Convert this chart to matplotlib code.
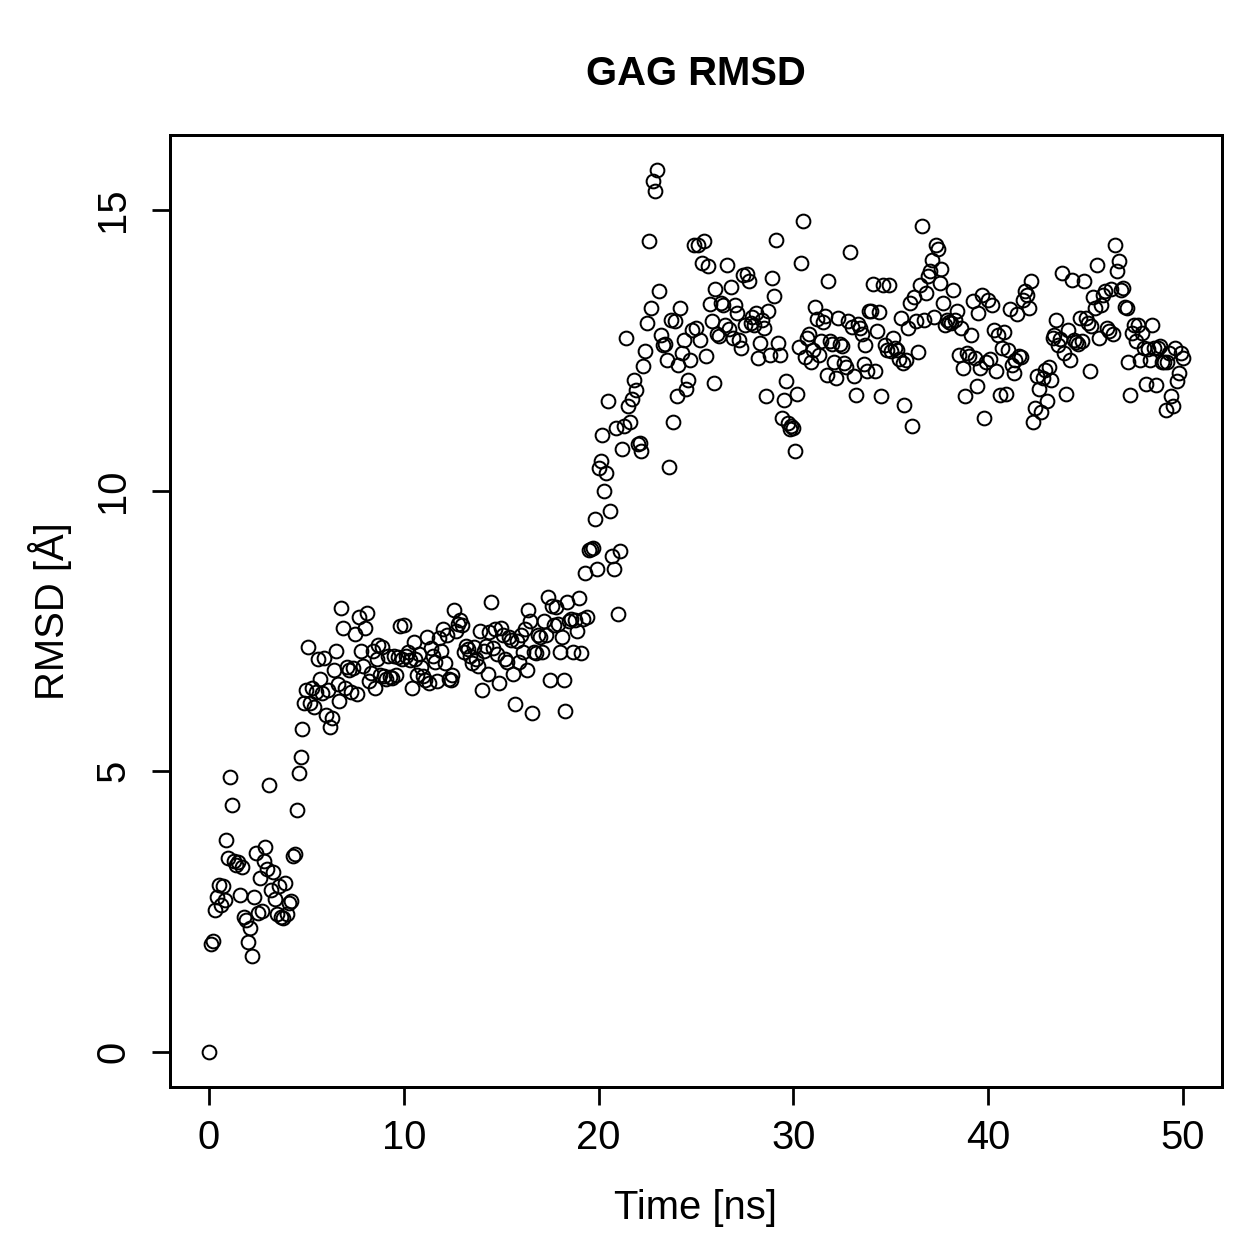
import matplotlib
matplotlib.use("Agg")
import matplotlib.pyplot as plt
import numpy as np

plt.rcParams['font.family'] = ['Liberation Sans', 'DejaVu Sans']

# RMSD per frame, one frame every 0.1 ns
RMSD = [
	0.00, 1.92, 1.98, 2.52, 2.75, 2.97, 2.62, 2.95, 2.70, 3.78,
	3.45, 4.90, 4.40, 3.40, 3.32, 3.38, 2.80, 3.30, 2.40, 2.35,
	1.95, 2.20, 1.70, 2.75, 3.55, 2.48, 3.10, 2.50, 3.40, 3.65,
	3.25, 4.75, 2.88, 3.20, 2.72, 2.45, 2.95, 2.40, 2.38, 3.00,
	2.45, 2.65, 2.68, 3.48, 3.52, 4.30, 4.97, 5.25, 5.75, 6.22,
	6.45, 7.22, 6.22, 6.48, 6.15, 6.42, 7.00, 6.65, 6.40, 7.02,
	6.00, 6.45, 5.78, 5.95, 6.80, 7.15, 6.55, 6.25, 7.90, 7.55,
	6.48, 6.85, 6.80, 6.42, 6.84, 7.45, 6.38, 7.74, 7.15, 6.88,
	7.55, 7.82, 6.60, 6.75, 7.15, 6.48, 7.00, 7.25, 6.72, 7.22,
	6.70, 6.65, 7.05, 6.68, 6.66, 7.05, 6.72, 7.04, 7.58, 7.00,
	7.60, 7.05, 7.12, 6.98, 6.48, 7.30, 7.00, 6.72, 7.08, 6.85,
	6.70, 6.62, 7.40, 6.58, 7.20, 7.05, 6.95, 6.60, 7.38, 7.15,
	7.54, 6.92, 7.42, 6.65, 6.62, 6.72, 7.87, 7.50, 7.62, 7.70,
	7.60, 7.12, 7.24, 7.18, 7.05, 6.92, 7.22, 7.00, 6.88, 7.49,
	6.44, 7.15, 7.24, 6.74, 7.48, 8.02, 7.20, 7.54, 7.08, 6.58,
	7.55, 7.42, 7.00, 6.95, 7.40, 7.33, 6.74, 6.20, 7.32, 6.95,
	7.42, 7.13, 7.54, 6.80, 7.88, 7.67, 6.03, 7.13, 7.10, 7.42,
	7.40, 7.13, 7.67, 7.42, 8.10, 6.62, 7.94, 7.60, 7.92, 7.62,
	7.13, 7.40, 6.62, 6.08, 8.02, 7.67, 7.72, 7.12, 7.70, 7.49,
	8.08, 7.10, 7.72, 8.53, 7.75, 8.94, 8.96, 8.97, 9.50, 8.60,
	10.40, 10.52, 10.99, 9.99, 10.31, 11.59, 9.63, 8.83, 8.61, 11.11,
	7.80, 8.92, 10.75, 11.16, 12.72, 11.50, 11.23, 11.64, 11.97, 11.79,
	10.84, 10.85, 10.70, 12.22, 12.48, 12.98, 14.45, 13.25, 15.52, 15.34,
	15.71, 13.55, 12.77, 12.60, 12.62, 12.32, 10.43, 13.04, 11.23, 13.02,
	11.68, 12.24, 13.25, 12.45, 12.68, 11.82, 11.97, 12.33, 12.86, 14.37,
	12.90, 14.37, 12.68, 14.05, 14.45, 12.40, 14.00, 13.32, 13.02, 11.91,
	13.59, 12.80, 12.75, 13.34, 13.30, 12.95, 14.02, 12.88, 13.63, 12.72,
	13.30, 13.16, 12.68, 12.54, 13.84, 12.95, 13.87, 13.73, 12.98, 13.10,
	12.95, 13.17, 12.36, 12.63, 13.05, 12.90, 11.68, 13.20, 12.42, 13.79,
	13.47, 14.46, 12.63, 12.41, 11.29, 11.61, 11.95, 11.20, 11.10, 11.15,
	11.12, 10.70, 11.72, 12.56, 14.05, 14.80, 12.38, 12.72, 12.79, 12.30,
	12.50, 13.28, 13.06, 12.41, 12.66, 13.00, 13.11, 12.06, 13.73, 12.66,
	12.62, 12.30, 12.00, 13.07, 12.61, 12.58, 12.27, 12.20, 13.02, 14.25,
	12.92, 12.05, 11.70, 12.97, 12.90, 12.80, 12.25, 12.60, 12.14, 13.20,
	13.20, 13.68, 12.13, 12.84, 13.18, 11.68, 13.66, 12.60, 12.50, 13.66,
	12.48, 12.72, 12.55, 12.50, 12.35, 13.07, 12.28, 11.52, 12.32, 12.90,
	13.34, 11.15, 13.46, 13.02, 12.47, 13.66, 14.71, 13.05, 13.52, 13.82,
	13.91, 14.11, 13.10, 14.37, 14.30, 13.70, 13.95, 13.34, 12.95, 13.05,
	13.00, 12.98, 13.57, 13.05, 13.21, 12.42, 12.90, 12.18, 11.68, 12.45,
	12.40, 12.77, 13.38, 12.36, 11.86, 13.16, 12.18, 13.48, 11.29, 12.30,
	13.40, 12.35, 13.30, 12.86, 12.13, 12.77, 11.70, 12.54, 12.82, 11.72,
	12.50, 13.23, 12.24, 12.09, 12.32, 13.14, 12.40, 12.38, 13.40, 13.55,
	13.48, 13.25, 13.73, 11.23, 11.47, 12.04, 11.82, 11.41, 12.00, 12.15,
	11.59, 12.20, 11.97, 12.72, 12.77, 13.04, 12.59, 12.70, 13.88, 12.45,
	11.73, 12.86, 12.32, 13.75, 12.68, 12.65, 12.62, 13.07, 12.66, 13.73,
	13.07, 12.98, 12.13, 12.93, 13.46, 13.25, 14.02, 12.72, 13.30, 13.48,
	13.55, 12.90, 12.85, 13.60, 12.80, 14.37, 13.91, 14.09, 13.58, 13.62,
	13.28, 13.25, 12.30, 11.70, 12.81, 12.95, 12.66, 12.95, 12.32, 12.81,
	12.55, 11.90, 12.53, 12.32, 12.95, 12.55, 11.88, 12.55, 12.58, 12.30,
	12.30, 11.43, 12.30, 12.45, 11.68, 11.50, 12.54, 11.95, 12.09, 12.45,
	12.36,
]
TIME = np.arange(len(RMSD)) * 0.1

XTICKS = [0, 10, 20, 30, 40, 50]
YTICKS = [0, 5, 10, 15]

fig = plt.figure(figsize=(1259/180, 1259/180), dpi=180)
ax = fig.add_axes([170/1259, 1 - 1087/1259, (1222-170)/1259, (1087-135)/1259])

ax.plot(TIME, RMSD, linestyle='none', marker='o', markersize=5.5,
		markerfacecolor='none', markeredgecolor='black', markeredgewidth=0.8)

# R style 4% padding around the data range
xr = TIME[-1] - TIME[0]
yr = max(RMSD) - min(RMSD)
ax.set_xlim(TIME[0] - 0.04*xr, TIME[-1] + 0.04*xr)
ax.set_ylim(min(RMSD) - 0.04*yr, max(RMSD) + 0.04*yr)

ax.set_xticks(XTICKS)
ax.set_yticks(YTICKS)
ax.set_yticklabels([str(v) for v in YTICKS], rotation=90, va='center')
ax.tick_params(direction='out', length=7.2, width=1.1, labelsize=16)
ax.tick_params(axis='x', pad=5.5)
ax.tick_params(axis='y', pad=8)
for s in ax.spines.values():
	s.set_linewidth(1.2)

ax.set_xlabel('Time [ns]', fontsize=16, labelpad=13)
ax.set_ylabel('RMSD [Å]', fontsize=16, labelpad=9)
ax.set_title('GAG RMSD', fontsize=16, fontweight='bold', pad=20)

fig.savefig('out.png', dpi=180)
